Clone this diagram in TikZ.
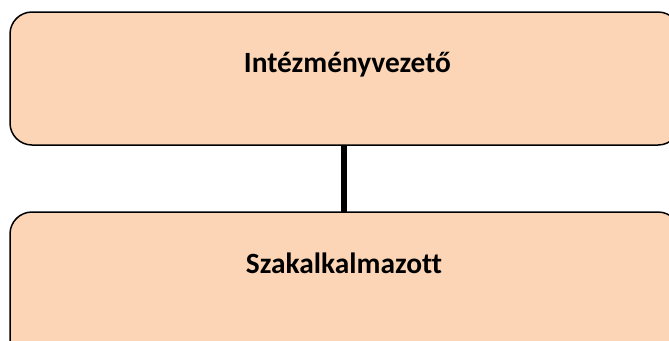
\documentclass[tikz,border=0pt]{standalone}
\usepackage{fontspec}
\setmainfont{Carlito}[Ligatures=NoCommon]
\definecolor{peach}{HTML}{FBD5B5}
\tikzset{
  orgbox/.style={draw=black, line width=1.5bp, fill=peach, rounded corners=22bp},
  lbl/.style={font=\fontsize{29.5}{34}\selectfont\bfseries, inner sep=0pt, anchor=base},
  conn/.style={line width=6bp, draw=black}
}
\begin{document}
\begin{tikzpicture}[x=1bp,y=-1bp]
\useasboundingbox (0,0) rectangle (669,340);
\clip (0,0) rectangle (669,340);
\draw[orgbox] (10,12) rectangle (680,145);
\draw[orgbox] (10,212) rectangle (680,370);
\coordinate (topb) at (344,145);
\coordinate (botb) at (344,212);
\node[lbl] (t1) at (347.5,72) {Intézményvezető};
\node[lbl] (t2) at (344,273) {Szakalkalmazott};
\draw[conn] (topb) -- (botb);
\end{tikzpicture}
\end{document}
